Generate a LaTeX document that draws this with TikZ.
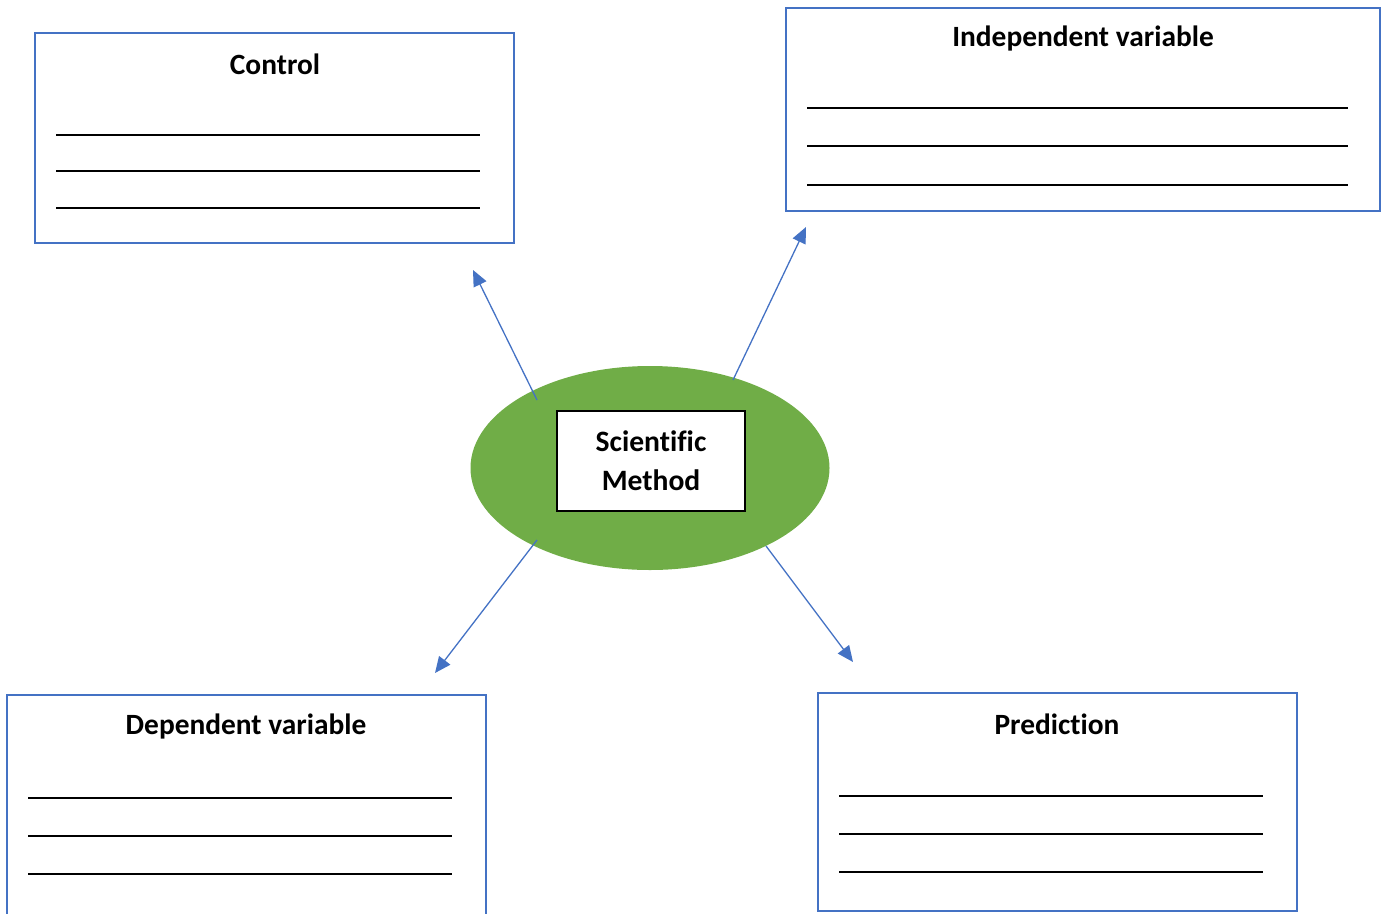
\documentclass[tikz,border=0pt]{standalone}
\usepackage{fontspec}
\setmainfont[Ligatures=NoCommon]{Carlito}
\usetikzlibrary{shapes.geometric,arrows.meta}
\definecolor{boxblue}{HTML}{4472C4}
\definecolor{leafgreen}{HTML}{70AD47}
\tikzset{
  infobox/.style={draw=boxblue,line width=2.2pt,fill=white},
  title/.style={font=\bfseries\fontsize{29.4}{34}\selectfont,anchor=center},
  blank/.style={line width=1.8pt,black},
  conn/.style={draw=boxblue,line width=1.3pt,-{Triangle[length=16pt,width=14pt]}},
}
\begin{document}
\begin{tikzpicture}[x=1pt,y=-1pt]
\useasboundingbox (0,0) rectangle (1388,913);
% ellipse
\node[ellipse,fill=leafgreen,minimum width=359pt,minimum height=204pt,inner sep=0pt] (ell) at (650,468) {};
\node[draw=black,line width=1.6pt,fill=white,minimum width=188pt,minimum height=100pt,inner sep=0pt,align=center,font=\bfseries\fontsize{29.6}{39}\selectfont] (sm) at (651,461) {Scientific\\Method};
% boxes
\draw[infobox] (35,33) rectangle (514,243);
\node[title] (tc) at (275,64) {Control};
\draw[blank] (56,135) -- (480,135);
\draw[blank] (56,171) -- (480,171);
\draw[blank] (56,208) -- (480,208);

\draw[infobox] (786,8) rectangle (1380,211);
\node[title] (ti) at (1083,38) {Independent variable};
\draw[blank] (807,108) -- (1348,108);
\draw[blank] (807,146) -- (1348,146);
\draw[blank] (807,185) -- (1348,185);

\draw[infobox] (7,695) rectangle (486,930);
\node[title] (td) at (246,726) {Dependent variable};
\draw[blank] (28,798) -- (452,798);
\draw[blank] (28,836) -- (452,836);
\draw[blank] (28,874) -- (452,874);

\draw[infobox] (818,693) rectangle (1297,911);
\node[title] (tp) at (1057,724) {Prediction};
\draw[blank] (839,796) -- (1263,796);
\draw[blank] (839,834) -- (1263,834);
\draw[blank] (839,872) -- (1263,872);

% connectors
\coordinate (s1) at (537,400);
\coordinate (e1) at (473,270);
\coordinate (s2) at (733,380);
\coordinate (e2) at (806,227);
\coordinate (s3) at (537,540);
\coordinate (e3) at (435,673);
\coordinate (s4) at (766,546);
\coordinate (e4) at (853,662);
\draw[conn] (s1) -- (e1);
\draw[conn] (s2) -- (e2);
\draw[conn] (s3) -- (e3);
\draw[conn] (s4) -- (e4);
\end{tikzpicture}
\end{document}
